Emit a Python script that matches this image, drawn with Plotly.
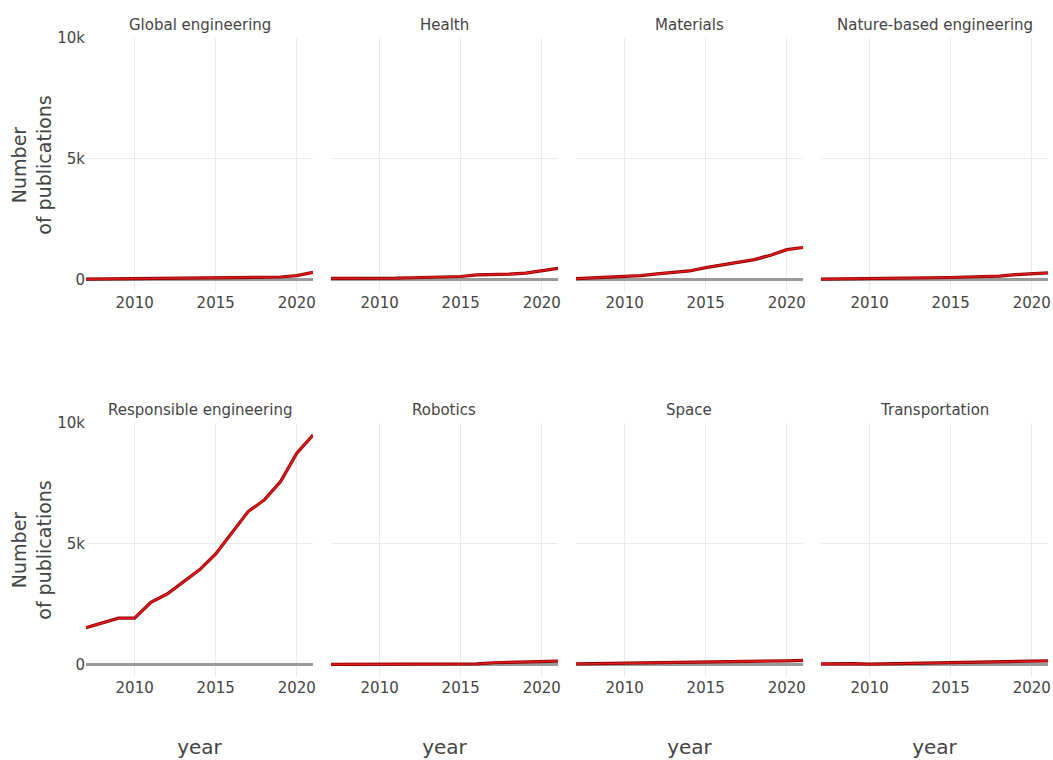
import plotly.graph_objects as go
from plotly.subplots import make_subplots

years = list(range(2007, 2022))
categories = ["Global engineering", "Health", "Materials", "Nature-based engineering",
              "Responsible engineering", "Robotics", "Space", "Transportation"]

global_eng = [30, 35, 40, 45, 50, 55, 60, 65, 70, 80, 90, 100, 120, 180, 310]
health = [60, 60, 60, 50, 70, 90, 110, 130, 140, 210, 220, 240, 280, 390, 480]
materials = [50, 80, 110, 140, 180, 250, 300, 370, 510, 620, 700, 840, 1020, 1250, 1340]
nature_based = [30, 35, 40, 45, 55, 65, 75, 85, 100, 120, 140, 160, 220, 260, 290]
responsible = [1540, 1720, 1930, 1930, 2590, 2930, 3440, 3930, 4590, 5440, 6340, 6820, 7580, 8750, 9500]
robotics = [20, 20, 20, 20, 20, 20, 25, 25, 25, 40, 90, 110, 120, 160, 160]
space = [40, 50, 60, 70, 80, 90, 100, 100, 90, 100, 110, 130, 150, 170, 190]
transportation = [40, 50, 50, 30, 40, 60, 70, 80, 90, 110, 100, 110, 130, 150, 170]

series = [global_eng, health, materials, nature_based, responsible, robotics, space, transportation]

W, H = 1053, 760
ml, mr, mt, mb = 86, 5, 38, 83
pw = W - ml - mr
ph = H - mt - mb

fig = make_subplots(rows=2, cols=4, subplot_titles=categories,
                    horizontal_spacing=18 / pw, vertical_spacing=131 / ph,
                    shared_yaxes=True)

for i, vals in enumerate(series):
    r, c = i // 4 + 1, i % 4 + 1
    fig.add_trace(go.Scatter(x=years, y=vals, mode="lines",
                             line=dict(color="#8b0000", width=3.2),
                             showlegend=False, hoverinfo="skip"), row=r, col=c)
    fig.add_trace(go.Scatter(x=years, y=vals, mode="lines", name=categories[i],
                             line=dict(color="#e31a1c", width=1.6),
                             showlegend=False), row=r, col=c)

fig.update_xaxes(range=[2007, 2021], dtick=5, tick0=2010, showgrid=True,
                 gridcolor="#ebebeb", gridwidth=1, zeroline=False, showline=False,
                 ticks="", automargin=False, tickfont=dict(size=15, color="#444"))
fig.update_yaxes(range=[-500, 10000], tickvals=[0, 5000, 10000], ticktext=["0", "5k", "10k"],
                 showgrid=True, gridcolor="#ebebeb", gridwidth=1,
                 zeroline=True, zerolinecolor="#9a9a9a", zerolinewidth=2.5,
                 showline=False, ticks="", automargin=False,
                 tickfont=dict(size=15, color="#444"))

for c in range(1, 5):
    fig.update_xaxes(title_text="year", title_font=dict(size=20, color="#444"),
                     title_standoff=43, row=2, col=c)
for r in range(1, 3):
    fig.update_yaxes(title_text="Number<br>of publications",
                     title_font=dict(size=19, color="#444"), title_standoff=0, row=r, col=1)

for a in fig.layout.annotations:
    a.font = dict(size=15, color="#444")
    a.yshift = 2

fig.update_layout(width=W, height=H, template="plotly_white",
                  font=dict(family="DejaVu Sans, Verdana, sans-serif", color="#444"),
                  margin=dict(l=ml, r=mr, t=mt, b=mb, autoexpand=False),
                  plot_bgcolor="white", paper_bgcolor="white")

fig.write_html("out.html", config={"displayModeBar": False},
               post_script="document.body.style.margin='0px';document.body.style.overflow='hidden';")
